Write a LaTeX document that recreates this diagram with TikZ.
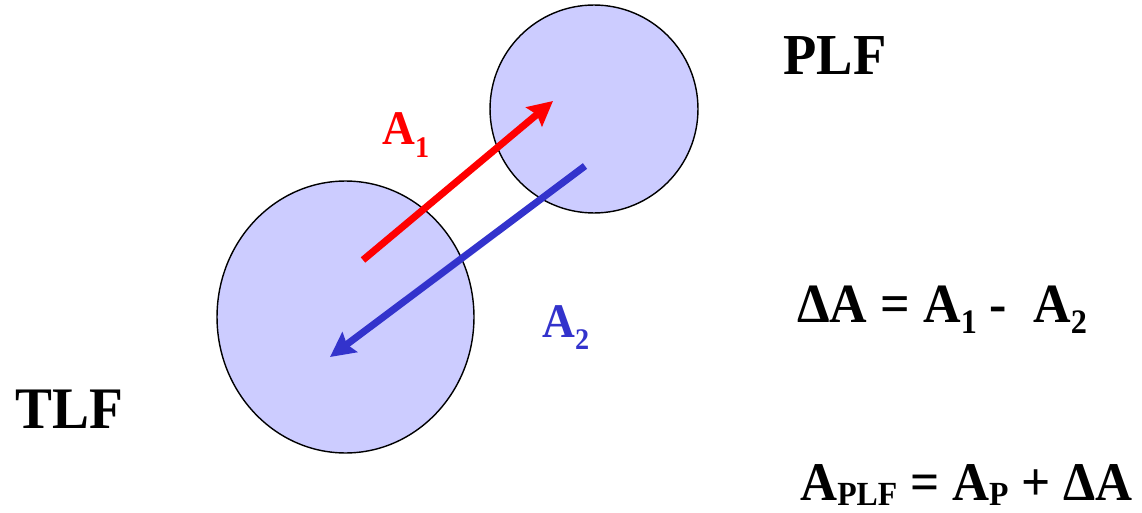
\documentclass[tikz,border=0pt]{standalone}
\usepackage{fontspec}
\setmainfont{Liberation Serif}[BoldFeatures={FakeStretch=0.94}]
\usetikzlibrary{arrows.meta, shapes.geometric}
\definecolor{lffill}{RGB}{204,204,255}
\definecolor{vecred}{RGB}{255,0,0}
\definecolor{vecblue}{RGB}{51,51,204}
\newcommand{\lowsub}[2][0.2em]{\raisebox{-#1}{\scalebox{0.62}{#2}}}

\begin{document}
\begin{tikzpicture}[
        x=0.02cm, y=-0.02cm,
        field/.style={ellipse, draw, thick, fill=lffill, inner sep=0pt, outer sep=0pt},
        vec/.style={-{Stealth[length=14pt, width=14pt, inset=2pt]}, line width=4pt},
        lbl/.style={anchor=base west, inner sep=0pt, font=\bfseries\fontsize{#1}{#1}\selectfont},
    ]
    \useasboundingbox (0,0) rectangle (1142,513);

    \node[field, minimum width=5.14cm, minimum height=5.44cm] (tlfc) at (345.5,317) {};
    \node[field, minimum width=4.16cm, minimum height=4.16cm] (plfc) at (594,109) {};

    \coordinate (a1s) at (363,260);
    \coordinate (a1e) at (553,101);
    \coordinate (a2s) at (585,166);
    \coordinate (a2e) at (330,357);
    \draw[vec, vecred] (a1s) -- (a1e);
    \draw[vec, vecblue] (a2s) -- (a2e);

    \node[lbl=33.5] (tlf) at (15,428) {TLF};
    \node[lbl=33] (plf) at (783,75) {PLF};
    \node[lbl=27.5, text=vecred] (a1) at (382,145) {A\lowsub[0.25em]{1}};
    \node[lbl=27.5, text=vecblue] (a2) at (542,337) {A\lowsub[0.25em]{2}};
    \node[lbl=31.5] (da) at (797,322) {ΔA = A\lowsub{1} -~~A\lowsub{2}};
    \node[lbl=31] (aplf) at (800,500) {A\lowsub[0.1em]{PLF} = A\lowsub[0.1em]{P} + ΔA};
\end{tikzpicture}
\end{document}
